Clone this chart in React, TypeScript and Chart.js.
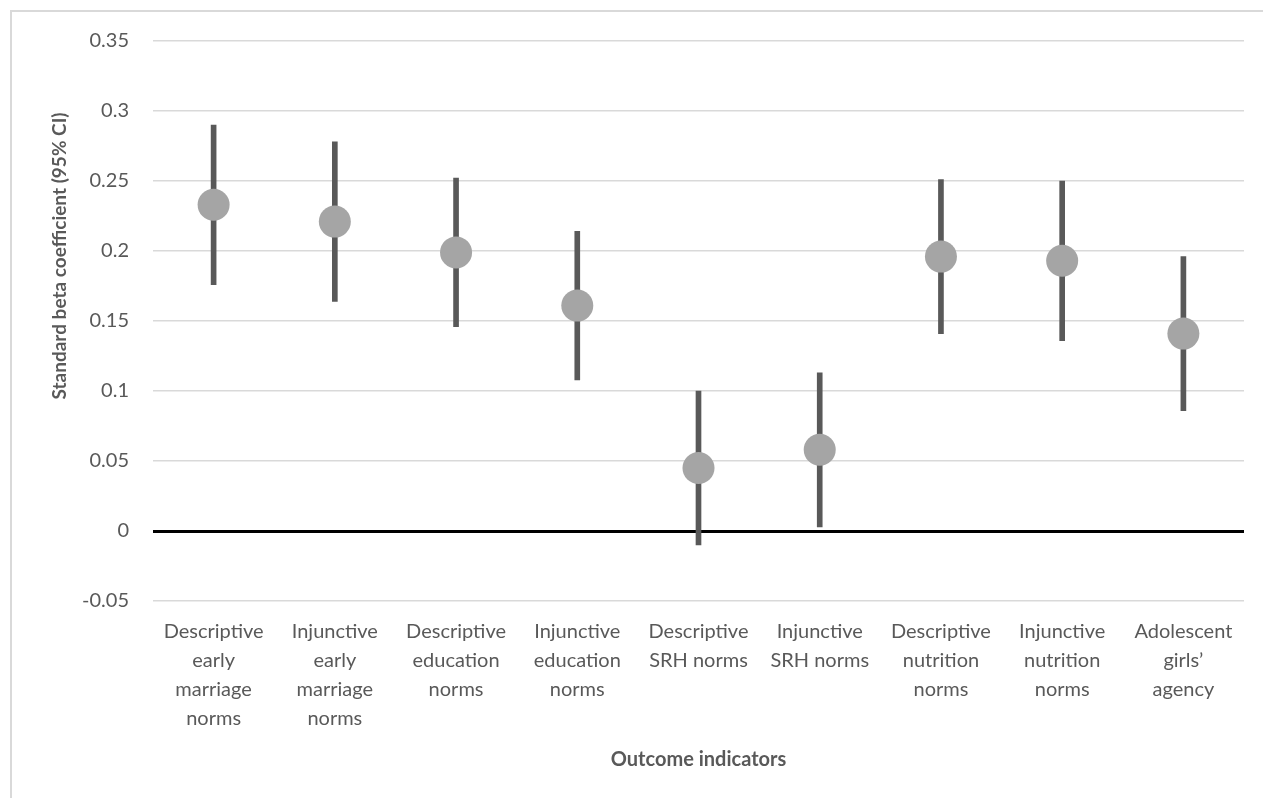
import React, { useEffect, useRef } from "react";
import { Chart, registerables } from "chart.js";

Chart.register(...registerables);

const categories: string[][] = [
  ["Descriptive", "early", "marriage", "norms"],
  ["Injunctive", "early", "marriage", "norms"],
  ["Descriptive", "education", "norms"],
  ["Injunctive", "education", "norms"],
  ["Descriptive", "SRH norms"],
  ["Injunctive", "SRH norms"],
  ["Descriptive", "nutrition", "norms"],
  ["Injunctive", "nutrition", "norms"],
  ["Adolescent", "girls’", "agency"],
];

const estimates = [0.233, 0.221, 0.199, 0.161, 0.045, 0.058, 0.196, 0.193, 0.141];
const lowerCI = [0.176, 0.164, 0.146, 0.108, -0.01, 0.003, 0.141, 0.136, 0.086];
const upperCI = [0.29, 0.278, 0.252, 0.214, 0.1, 0.113, 0.251, 0.25, 0.196];

const yMin = -0.05;
const yMax = 0.35;
const yStep = 0.05;

const yTitle = "Standard beta coefficient (95% CI)";
const xTitle = "Outcome indicators";

const FONT = "Lato, 'Open Sans', sans-serif";
const TEXT = "#595959";

export default function App() {
  const ref = useRef<HTMLCanvasElement | null>(null);

  useEffect(() => {
    document.body.style.margin = "0";
    const canvas = ref.current;
    if (!canvas) return;

    const titles = {
      id: "axisTitles",
      afterDraw(chart: any) {
        const { ctx, chartArea } = chart;
        ctx.save();
        ctx.fillStyle = TEXT;
        ctx.textAlign = "center";
        ctx.textBaseline = "middle";
        ctx.font = `bold 20px ${FONT}`;
        ctx.fillText(xTitle, (chartArea.left + chartArea.right) / 2, 760);
        ctx.font = `bold 19px ${FONT}`;
        ctx.translate(60, 256);
        ctx.rotate(-Math.PI / 2);
        ctx.fillText(yTitle, 0, 0);
        ctx.restore();
      },
    };

    const chart = new Chart(canvas, {
      type: "bar",
      data: {
        labels: categories as any,
        datasets: [
          {
            type: "line",
            label: "Estimate",
            data: estimates,
            showLine: false,
            pointRadius: 16,
            pointHoverRadius: 16,
            pointBackgroundColor: "#a5a5a5",
            pointBorderColor: "#a5a5a5",
            pointBorderWidth: 0,
            order: 0,
          } as any,
          {
            type: "bar",
            label: "95% CI",
            data: lowerCI.map((lo, i) => [lo, upperCI[i]]) as any,
            backgroundColor: "#595959",
            barThickness: 5,
            order: 1,
          },
        ],
      },
      options: {
        responsive: false,
        animation: false,
        layout: { padding: { top: 41, right: 19, left: 0, bottom: 0 } },
        plugins: {
          legend: { display: false },
          tooltip: { enabled: false },
        },
        scales: {
          x: {
            grid: { display: false, drawTicks: false },
            border: { display: false },
            ticks: {
              color: TEXT,
              font: { family: FONT, size: 20, lineHeight: 1.45 },
              padding: 16,
              maxRotation: 0,
              autoSkip: false,
            },
            afterFit(scale: any) {
              scale.height = 197;
            },
          },
          y: {
            min: yMin,
            max: yMax,
            grid: {
              drawTicks: false,
              color: (c: any) => (c.tick && Math.abs(c.tick.value) < 1e-9 ? "#000000" : "#d9d9d9"),
              lineWidth: (c: any) => (c.tick && Math.abs(c.tick.value) < 1e-9 ? 3 : 1.5),
            },
            border: { display: false },
            ticks: {
              stepSize: yStep,
              color: TEXT,
              padding: 24,
              font: { family: FONT, size: 20 },
              callback: (v: any) => String(Number(Number(v).toFixed(2))),
            },
            afterFit(scale: any) {
              scale.width = 153;
            },
          },
        },
      },
      plugins: [titles],
    });

    return () => chart.destroy();
  }, []);

  return (
    <div style={{ position: "relative", width: 1263, height: 798, background: "#fff" }}>
      <div
        style={{
          position: "absolute",
          left: 10,
          top: 10,
          width: 1253,
          height: 788,
          borderLeft: "2px solid #d9d9d9",
          borderTop: "2px solid #d9d9d9",
          boxSizing: "border-box",
        }}
      />
      <canvas ref={ref} width={1263} height={798} style={{ position: "absolute", left: 0, top: 0 }} />
    </div>
  );
}
